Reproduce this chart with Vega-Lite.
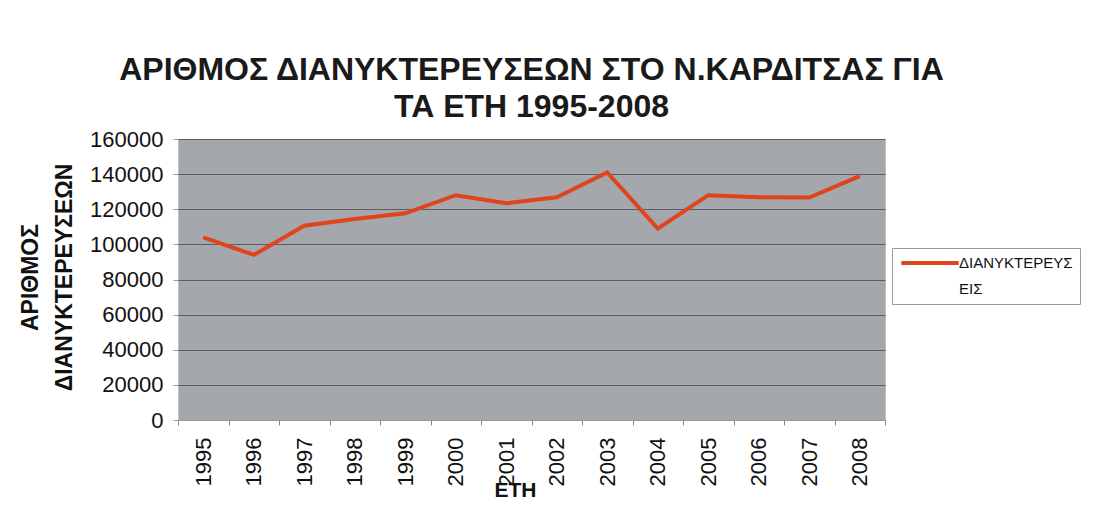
{
  "$schema": "https://vega.github.io/schema/vega-lite/v6.json",
  "width": 707,
  "height": 281,
  "autosize": {"type": "none"},
  "padding": {"left": 178, "top": 139, "right": 223, "bottom": 85},
  "background": "white",
  "title": {
    "text": ["ΑΡΙΘΜΟΣ ΔΙΑΝΥΚΤΕΡΕΥΣΕΩΝ ΣΤΟ Ν.ΚΑΡΔΙΤΣΑΣ ΓΙΑ", "ΤΑ ΕΤΗ 1995-2008"],
    "font": "Liberation Sans",
    "fontSize": 32,
    "fontWeight": "bold",
    "color": "#1a1a1a",
    "anchor": "middle",
    "lineHeight": 37,
    "offset": 4
  },
  "data": {
    "values": [
      {"year": "1995", "value": 104000, "series": "ΔΙΑΝΥΚΤΕΡΕΥΣΕΙΣ"},
      {"year": "1996", "value": 94000, "series": "ΔΙΑΝΥΚΤΕΡΕΥΣΕΙΣ"},
      {"year": "1997", "value": 110600, "series": "ΔΙΑΝΥΚΤΕΡΕΥΣΕΙΣ"},
      {"year": "1998", "value": 114500, "series": "ΔΙΑΝΥΚΤΕΡΕΥΣΕΙΣ"},
      {"year": "1999", "value": 117700, "series": "ΔΙΑΝΥΚΤΕΡΕΥΣΕΙΣ"},
      {"year": "2000", "value": 128000, "series": "ΔΙΑΝΥΚΤΕΡΕΥΣΕΙΣ"},
      {"year": "2001", "value": 123400, "series": "ΔΙΑΝΥΚΤΕΡΕΥΣΕΙΣ"},
      {"year": "2002", "value": 126800, "series": "ΔΙΑΝΥΚΤΕΡΕΥΣΕΙΣ"},
      {"year": "2003", "value": 141000, "series": "ΔΙΑΝΥΚΤΕΡΕΥΣΕΙΣ"},
      {"year": "2004", "value": 109000, "series": "ΔΙΑΝΥΚΤΕΡΕΥΣΕΙΣ"},
      {"year": "2005", "value": 128000, "series": "ΔΙΑΝΥΚΤΕΡΕΥΣΕΙΣ"},
      {"year": "2006", "value": 126800, "series": "ΔΙΑΝΥΚΤΕΡΕΥΣΕΙΣ"},
      {"year": "2007", "value": 126700, "series": "ΔΙΑΝΥΚΤΕΡΕΥΣΕΙΣ"},
      {"year": "2008", "value": 138900, "series": "ΔΙΑΝΥΚΤΕΡΕΥΣΕΙΣ"}
    ]
  },
  "mark": {"type": "line", "strokeWidth": 4, "strokeJoin": "miter"},
  "encoding": {
    "x": {
      "field": "year",
      "type": "ordinal",
      "scale": {"type": "band", "paddingInner": 0, "paddingOuter": 0},
      "axis": {
        "tickBand": "extent",
        "labelAngle": -90,
        "labelAlign": "right",
        "labelBaseline": "middle",
        "labelFont": "Liberation Sans",
        "labelFontSize": 22,
        "labelColor": "#111",
        "labelPadding": 12,
        "tickColor": "#888",
        "tickSize": 5,
        "domainColor": "#999",
        "grid": false,
        "title": "ΕΤΗ",
        "titleFont": "Liberation Sans",
        "titleFontSize": 21,
        "titleFontWeight": "bold",
        "titleColor": "#111",
        "titleX": 337,
        "titleY": 70,
        "titleBaseline": "middle",
        "titleAlign": "center"
      }
    },
    "y": {
      "field": "value",
      "type": "quantitative",
      "scale": {"domain": [0, 160000], "nice": false},
      "axis": {
        "values": [0, 20000, 40000, 60000, 80000, 100000, 120000, 140000, 160000],
        "format": "d",
        "grid": true,
        "gridColor": "#5a5d62",
        "gridWidth": 1.2,
        "domain": false,
        "tickColor": "#999",
        "tickSize": 5,
        "labelPadding": 10,
        "labelFont": "Liberation Sans",
        "labelFontSize": 22,
        "labelColor": "#111",
        "title": ["ΑΡΙΘΜΟΣ", "ΔΙΑΝΥΚΤΕΡΕΥΣΕΩΝ"],
        "titleFont": "Liberation Sans",
        "titleFontSize": 23,
        "titleFontWeight": "bold",
        "titleColor": "#111",
        "titleLineHeight": 34,
        "titleX": -148,
        "titleY": 138,
        "titleBaseline": "middle",
        "titleAlign": "center",
        "titleAngle": -90
      }
    },
    "color": {
      "field": "series",
      "type": "nominal",
      "scale": {"range": ["#e0441c"]},
      "legend": {
        "orient": "none",
        "legendX": 714,
        "legendY": 109,
        "title": null,
        "strokeColor": "#9a9a9a",
        "fillColor": "white",
        "padding": 7,
        "symbolType": "stroke",
        "symbolSize": 400,
        "symbolOffset": 0,
        "symbolStrokeWidth": 4,
        "labelFont": "Liberation Sans",
        "labelFontSize": 15,
        "labelBaseline": "middle",
        "labelColor": "#111",
        "labelLimit": 300,
        "labelOffset": -2,
        "labelExpr": "[slice(datum.label, 0, 12), slice(datum.label, 12)]",
        "encode": {
          "symbols": {"update": {"size": {"value": 3300}, "y": {"value": 8}}},
          "labels": {"update": {"y": {"value": 8}}}
        }
      }
    }
  },
  "config": {
    "view": {"fill": "#a4a7ac", "stroke": "#c0c0c0"},
    "style": {"guide-label": {"lineHeight": 26}}
  }
}
